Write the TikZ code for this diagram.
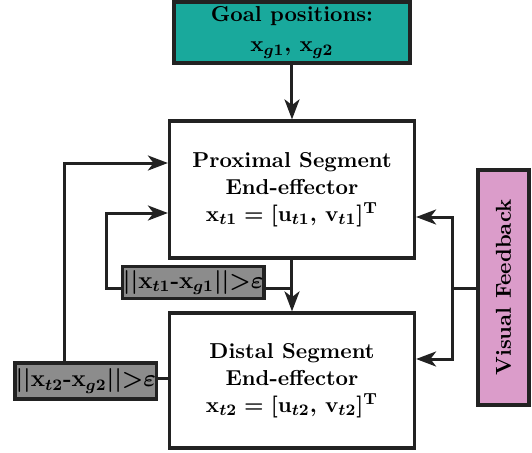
\documentclass[tikz,border=0pt]{standalone}
\usetikzlibrary{arrows.meta,calc}
\definecolor{goalteal}{HTML}{19A99C}
\definecolor{condgray}{HTML}{8C8C8C}
\definecolor{vfpink}{HTML}{DB9CCA}
\definecolor{edge}{HTML}{222222}
\begin{document}
\begin{tikzpicture}[x=0.5pt,y=-0.5pt,
  box/.style={draw=edge,line width=1.6pt,inner sep=0pt,align=center,
    font=\fontsize{10.8}{13.5}\selectfont\bfseries\boldmath},
  condbox/.style={box,fill=condgray,font=\fontsize{11.5}{13}\selectfont\bfseries\boldmath},
  conn/.style={draw=edge,line width=1.5pt},
  arr/.style={conn,-{Stealth[length=10pt,width=7.5pt,inset=2.8pt]}}]
\useasboundingbox (0,0) rectangle (532,452);
% nodes
\node[box,fill=goalteal,minimum width=118pt,minimum height=30.5pt] (goal) at (292,32.5)
  {Goal positions:\\[1.5pt] $\mathbf{x}_{g1}$, $\mathbf{x}_{g2}$};
\node[box,fill=white,minimum width=122.5pt,minimum height=68.5pt] (prox) at (292,189.5)
  {Proximal Segment\\ End-effector\\ $\mathbf{x}_{t1}=[\mathbf{u}_{t1},\,\mathbf{v}_{t1}]^{\mathrm{T}}$};
\node[box,fill=white,minimum width=122.5pt,minimum height=67.5pt] (dist) at (292,380.5)
  {Distal Segment\\ End-effector\\ $\mathbf{x}_{t2}=[\mathbf{u}_{t2},\,\mathbf{v}_{t2}]^{\mathrm{T}}$};
\node[condbox,minimum width=70.75pt,minimum height=16pt] (g1) at (193.25,282.5)
  {$||\mathbf{x}_{t1}$\mbox{-}$\mathbf{x}_{g1}||{>}\varepsilon$};
\node[condbox,minimum width=70.85pt,minimum height=18pt] (g2) at (85.85,381)
  {$||\mathbf{x}_{t2}$\mbox{-}$\mathbf{x}_{g2}||{>}\varepsilon$};
\node[box,fill=vfpink,minimum width=25.5pt,minimum height=117.5pt] (vf) at (503.5,287.5) {};
\node[font=\fontsize{10.8}{13}\selectfont\bfseries,rotate=90,inner sep=0pt] (vftext) at (vf.center) {Visual Feedback};
% levels
\coordinate (lvA) at (0,163);
\coordinate (lvB) at (0,213);
\coordinate (lvC) at (0,217);
\coordinate (lvD) at (0,359);
\coordinate (lvE) at (0,288);
\coordinate (lvF) at (0,378);
\coordinate (vxL) at (65,0);
\coordinate (vxM) at (107,0);
\coordinate (vxR) at (453,0);
% connectors
\draw[arr] (goal.south) -- (prox.north);
\draw[arr] (prox.south) -- (dist.north);
\draw[conn] (g1.east |- lvE) -- (prox.south |- lvE);
\draw[arr] (g1.west |- lvE) -- (vxM |- lvE) |- (prox.west |- lvB);
\draw[arr] (g2.north -| vxL) |- (prox.west |- lvA);
\draw[conn] (g2.east |- lvF) -- (dist.west |- lvF);
\draw[arr] (vf.west |- lvE) -- (vxR |- lvE) |- (prox.east |- lvC);
\draw[arr] (vxR |- lvE) |- (dist.east |- lvD);
\end{tikzpicture}
\end{document}
